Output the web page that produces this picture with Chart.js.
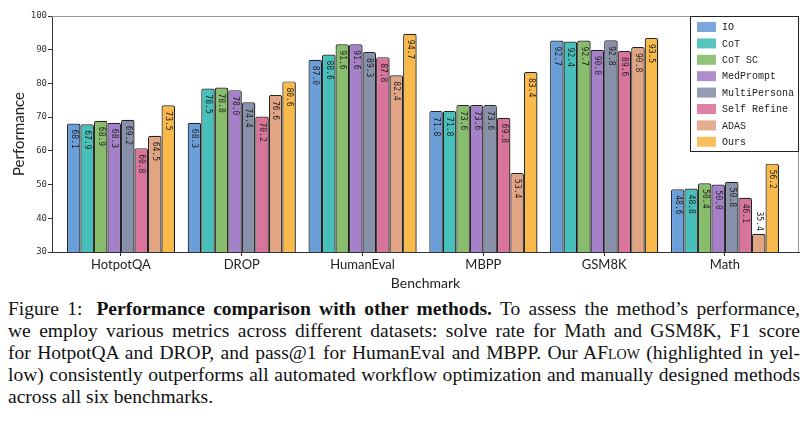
<!DOCTYPE html>
<html>
<head>
<meta charset="utf-8">
<script src="https://cdn.jsdelivr.net/npm/chart.js@4.4.1/dist/chart.umd.min.js"></script>
<style>
  body { margin: 0; background: #fff; width: 809px; height: 422px; overflow: hidden; }
  #wrap { position: absolute; left: 0; top: 0; width: 809px; height: 292px; }
  #caption { position: absolute; left: 8px; top: 298px; width: 792px; font-family: "Liberation Serif", "Times New Roman", Times, serif; font-size: 17.5px; line-height: 22px; color: #111; }
  .ln { text-align: justify; text-align-last: justify; }
  .last { text-align: left; text-align-last: left; }
  .sc { font-variant: small-caps; }
</style>
</head>
<body>
<div id="wrap"><canvas id="perfChart"></canvas></div>
<div id="caption">
  <div class="ln">Figure 1:<span style="display:inline-block;width:14px"></span><b>Performance comparison with other methods.</b> To assess the method’s performance,</div>
  <div class="ln">we employ various metrics across different datasets: solve rate for Math and GSM8K, F1 score</div>
  <div class="ln">for HotpotQA and DROP, and pass@1 for HumanEval and MBPP. Our A<span class="sc">Flow</span> (highlighted in yel-</div>
  <div class="ln">low) consistently outperforms all automated workflow optimization and manually designed methods</div>
  <div class="ln last">across all six benchmarks.</div>
</div>
<script>
const benchmarks = ['HotpotQA', 'DROP', 'HumanEval', 'MBPP', 'GSM8K', 'Math'];
const methods = ['IO', 'CoT', 'CoT SC', 'MedPrompt', 'MultiPersona', 'Self Refine', 'ADAS', 'Ours'];

const io          = [68.1, 68.3, 87.0, 71.8, 92.7, 48.6];
const cot         = [67.9, 78.5, 88.6, 71.8, 92.4, 48.8];
const cotSc       = [68.9, 78.8, 91.6, 73.6, 92.7, 50.4];
const medPrompt   = [68.3, 78.0, 91.6, 73.6, 90.0, 50.0];
const multiPersona = [69.2, 74.4, 89.3, 73.6, 92.8, 50.8];
const selfRefine  = [60.8, 70.2, 87.8, 69.8, 89.6, 46.1];
const adas        = [64.5, 76.6, 82.4, 53.4, 90.8, 35.4];
const ours        = [73.5, 80.6, 94.7, 83.4, 93.5, 56.2];

const yTicks = [30, 40, 50, 60, 70, 80, 90, 100];

const series = [io, cot, cotSc, medPrompt, multiPersona, selfRefine, adas, ours];
const colors = ['#6b9fd9', '#47bfba', '#87bd6c', '#a481c8', '#8791a9', '#d9749b', '#e2a584', '#f9b94b'];

// size the caption so its widest line just fills the column, then justify
(function fitCaption() {
    const cap = document.getElementById('caption');
    let widest = 0;
    cap.querySelectorAll('.ln:not(.last)').forEach(line => {
        const probe = document.createElement('span');
        probe.style.whiteSpace = 'nowrap';
        probe.innerHTML = line.innerHTML;
        cap.appendChild(probe);
        widest = Math.max(widest, probe.getBoundingClientRect().width);
        cap.removeChild(probe);
    });
    if (widest > 0) cap.style.fontSize = (17.5 * 786 / widest).toFixed(2) + 'px';
})();

// light grey frame on top / right like the matplotlib box
const framePlugin = {
    id: 'frame',
    beforeDatasetsDraw(chart) {
        const { ctx, chartArea: a } = chart;
        ctx.save();
        ctx.strokeStyle = '#999';
        ctx.lineWidth = 1;
        ctx.beginPath();
        ctx.moveTo(a.left, a.top + 0.5);
        ctx.lineTo(a.right - 0.5, a.top + 0.5);
        ctx.lineTo(a.right - 0.5, a.bottom);
        ctx.stroke();
        ctx.restore();
    }
};

const shadowPlugin = {
    id: 'barShadow',
    beforeDatasetsDraw(chart) {
        const ctx = chart.ctx;
        ctx.save();
        ctx.shadowColor = 'rgba(0,0,0,0.22)';
        ctx.shadowOffsetX = 1.5;
        ctx.shadowOffsetY = 1;
        ctx.shadowBlur = 1.5;
    },
    afterDatasetsDraw(chart) {
        chart.ctx.restore();
    }
};

// vertical value labels inside the top of each bar (above it if the bar is too short)
const valuePlugin = {
    id: 'values',
    afterDatasetsDraw(chart) {
        const ctx = chart.ctx;
        const yScale = chart.scales.y;
        const basePx = yScale.getPixelForValue(yScale.min);
        ctx.save();
        ctx.font = '8px "DejaVu Sans Mono"';
        ctx.fillStyle = '#222';
        ctx.textBaseline = 'middle';
        chart.data.datasets.forEach((ds, k) => {
            chart.getDatasetMeta(k).data.forEach((bar, i) => {
                const v = ds.data[i].y;
                const txt = v.toFixed(1);
                const w = ctx.measureText(txt).width;
                const top = yScale.getPixelForValue(v);
                const h = basePx - top;
                ctx.save();
                ctx.translate(bar.x, top);
                ctx.rotate(Math.PI / 2);
                if (h > w + 8) {
                    ctx.textAlign = 'left';
                    ctx.fillText(txt, 6, 0);
                } else {
                    ctx.textAlign = 'right';
                    ctx.fillText(txt, -3, 0);
                }
                ctx.restore();
            });
        });
        ctx.restore();
    }
};

const legendPlugin = {
    id: 'boxLegend',
    afterDraw(chart) {
        const { ctx, chartArea: a } = chart;
        const x0 = a.right - 109, y0 = a.top, w = 109, h = 136;
        ctx.save();
        ctx.fillStyle = '#fff';
        ctx.fillRect(x0, y0, w, h);
        ctx.strokeStyle = '#222';
        ctx.lineWidth = 1;
        ctx.strokeRect(x0 + 0.5, y0 + 0.5, w - 1, h - 1);
        ctx.font = '10px "Liberation Mono"';
        ctx.textBaseline = 'middle';
        ctx.textAlign = 'left';
        chart.data.datasets.forEach((ds, k) => {
            const cy = y0 + 11 + k * 16.4;
            ctx.globalAlpha = 0.9;
            ctx.fillStyle = ds.backgroundColor;
            ctx.fillRect(x0 + 7, cy - 5, 19, 10);
            ctx.globalAlpha = 1;
            ctx.fillStyle = '#222';
            ctx.fillText(ds.label, x0 + 32, cy + 0.5);
        });
        ctx.restore();
    }
};

const ctx = document.getElementById('perfChart').getContext('2d');
new Chart(ctx, {
    type: 'bar',
    data: {
        datasets: methods.map((m, k) => ({
            label: m,
            data: series[k].map((v, i) => ({ x: i, y: v })),
            backgroundColor: colors[k],
            borderColor: '#262626',
            borderWidth: 1.2,
            borderRadius: 2,
            borderSkipped: false,
            categoryPercentage: 0.895,
            barPercentage: 1.0
        }))
    },
    options: {
        responsive: true,
        maintainAspectRatio: false,
        animation: false,
        layout: { padding: { left: 0, right: 10, top: 16, bottom: 0 } },
        plugins: {
            legend: { display: false },
            tooltip: { enabled: false }
        },
        scales: {
            x: {
                type: 'linear',
                min: -0.571,
                max: 5.613,
                offset: false,
                afterFit: s => { s.height = 40; },
                grid: { display: true, drawOnChartArea: false, drawTicks: true, tickLength: 4, color: '#333', offset: false },
                border: { display: true, color: '#333', width: 1 },
                ticks: {
                    stepSize: 1,
                    includeBounds: false,
                    autoSkip: false,
                    maxRotation: 0,
                    padding: 1,
                    color: '#222',
                    font: { family: 'Lato', size: 13 },
                    callback: v => Number.isInteger(v) ? benchmarks[v] : ''
                },
                title: { display: true, text: 'Benchmark', color: '#222', font: { family: 'Lato', size: 14 }, padding: { top: 0, bottom: 0 } }
            },
            y: {
                min: 30,
                max: 100,
                afterFit: s => { s.width = 52; },
                afterBuildTicks: s => { s.ticks = yTicks.map(v => ({ value: v })); },
                grid: { display: true, drawOnChartArea: false, drawTicks: true, tickLength: 4, color: '#333' },
                border: { display: true, color: '#333', width: 1 },
                ticks: { padding: 1, color: '#333', font: { family: 'DejaVu Sans Mono', size: 9 } },
                title: { display: true, text: 'Performance', color: '#222', font: { family: 'Lato', size: 15 }, padding: { top: 10, bottom: 0 } }
            }
        }
    },
    plugins: [framePlugin, shadowPlugin, valuePlugin, legendPlugin]
});
</script>
</body>
</html>
